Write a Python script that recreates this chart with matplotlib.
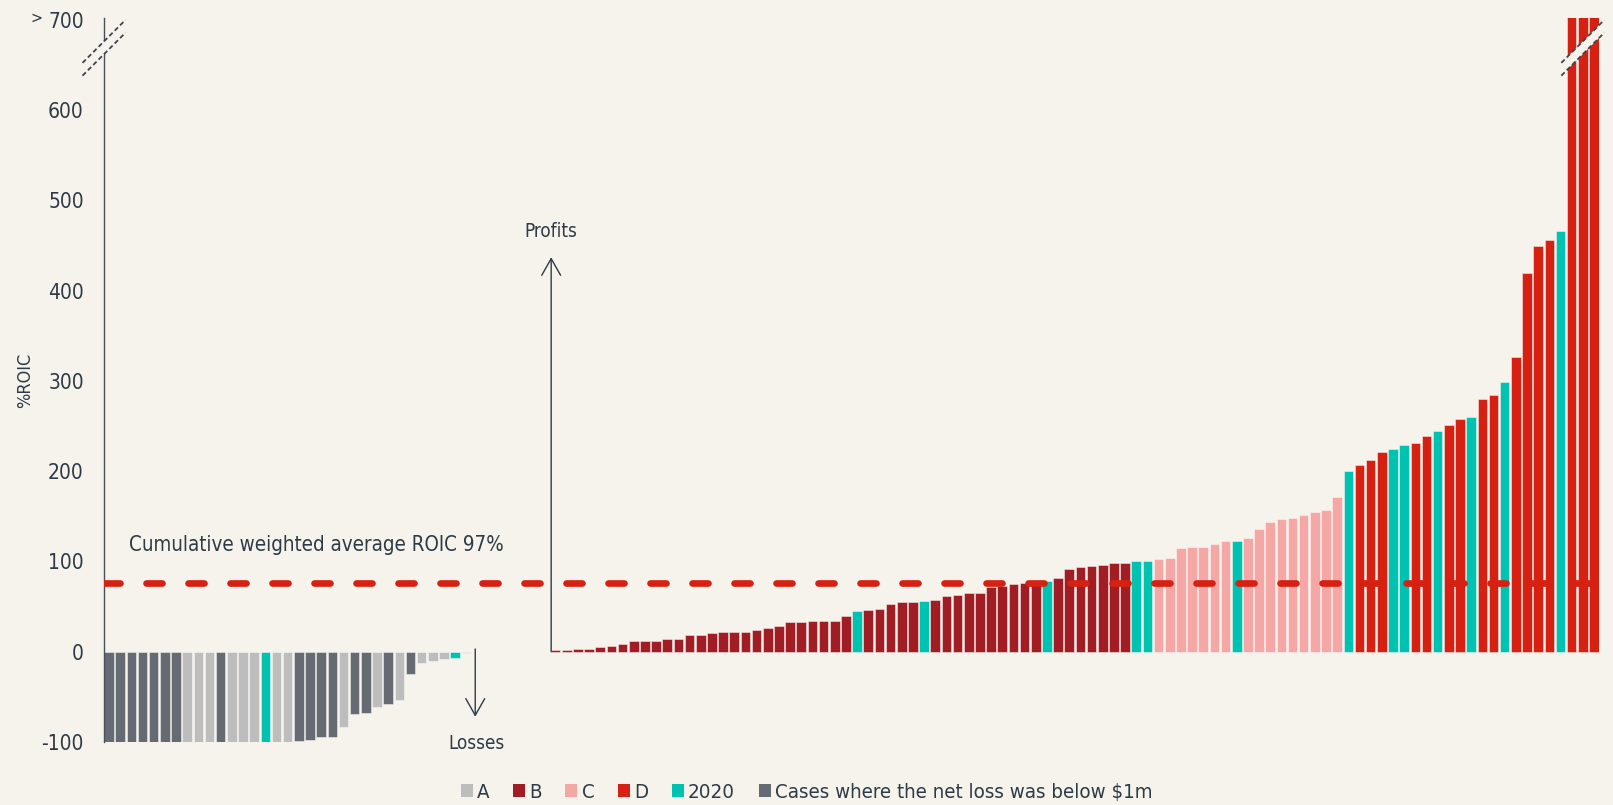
import numpy as np
import matplotlib
matplotlib.use("Agg")
import matplotlib.pyplot as plt
import matplotlib.transforms as transforms
from matplotlib.patches import Patch, Polygon
from matplotlib.lines import Line2D

# Data
# category codes: A, B, C, D, T = 2020, G = net loss below $1m
loss_values = [-100, -100, -100, -100, -100, -100, -100,
               -100, -100, -100, -100, -100, -100, -100, -100, -100, -100,
               -99, -97.5, -95, -94.5, -83, -68.5, -68, -61, -58, -54, -25,
               -12, -10, -8, -7, -1]
loss_cats = ["G"] * 7 + ["A"] * 3 + ["G"] + ["A"] * 3 + ["T"] + ["A"] * 2 + \
            ["G"] * 4 + ["A", "G", "G", "A", "G", "A", "G", "A", "A", "A", "T", "A"]

profit_values = [2, 2, 3.5, 3.5, 5, 6.5, 8.5, 12, 12, 12, 14, 14.5, 18.5, 19, 20.5,
                 21.5, 21.5, 22, 24.5, 26, 29, 33, 33, 33.5, 34, 34, 40,
                 45.5,
                 46, 47.5, 53, 55, 55.5,
                 56.5,
                 57, 61.5, 62.5, 64.5, 65, 71.5, 73, 75, 76.5, 77,
                 78,
                 81.5, 92, 93.5, 94.5, 96.5, 98.5, 98.5,
                 100.5, 100.5,
                 103, 104, 115, 115.5, 116, 119.5, 122.5,
                 123,
                 126.5, 135.5, 143.5, 147, 148.5, 151, 154.5, 157, 171.5,
                 200,
                 206.5, 212, 221,
                 224.5, 229,
                 231.5, 239.5,
                 244,
                 251.5, 258,
                 260,
                 279.5, 284,
                 299,
                 326, 419, 449, 456.5,
                 466.5,
                 800, 800, 800]
profit_cats = ["B"] * 27 + ["T"] + ["B"] * 5 + ["T"] + ["B"] * 10 + ["T"] + ["B"] * 7 + \
              ["T"] * 2 + ["C"] * 7 + ["T"] + ["C"] * 9 + ["T"] + ["D"] * 3 + ["T"] * 2 + \
              ["D"] * 2 + ["T"] + ["D"] * 2 + ["T"] + ["D"] * 2 + ["T"] + ["D"] * 4 + \
              ["T"] + ["D"] * 3

avg_roic = 76.5
gap_slots = 7

legend_labels = ["A", "B", "C", "D", "2020", "Cases where the net loss was below $1m"]
legend_cats = ["A", "B", "C", "D", "T", "G"]

# Style
BG = "#F5F3EB"
TEXT = "#2E3A46"
COLORS = {"A": "#BDBDBD", "B": "#A01D23", "C": "#F4A7A5", "D": "#D62011",
          "T": "#00C2B0", "G": "#666B73"}

plt.rcParams["font.family"] = "DejaVu Sans"
plt.rcParams["font.stretch"] = "condensed"
plt.rcParams["axes.unicode_minus"] = False

fig = plt.figure(figsize=(16.13, 8.05), dpi=100, facecolor=BG)
ax = fig.add_axes([0.06448, 0.07826, 0.92685, 0.8994])
ax.set_facecolor(BG)

x_loss = np.arange(len(loss_values))
x_profit = np.arange(len(profit_values)) + len(loss_values) + gap_slots
xs = np.r_[x_loss, x_profit]
vals = np.r_[loss_values, profit_values]
cats = loss_cats + profit_cats

ax.bar(xs, vals, width=0.86, color=[COLORS[c] for c in cats],
       edgecolor=(1, 1, 1, 0.45), linewidth=0.7, zorder=1)

ax.set_xlim(xs[0] - 0.45, xs[-1] + 0.45)
ax.set_ylim(-100, 702)

# weighted average line
ax.axhline(avg_roic, color="#D62011", lw=4.8, dashes=(2.4, 3.9),
           dash_capstyle="round", zorder=4)
ax.text(1.75, 118, "Cumulative weighted average ROIC 97%", fontsize=14.8,
        color=TEXT, va="center", ha="left")

# spines / ticks
for s in ["top", "right", "bottom"]:
    ax.spines[s].set_visible(False)
ax.spines["left"].set_color("#4A5059")
ax.spines["left"].set_linewidth(1.0)
ax.set_xticks([])
ax.set_yticks(np.arange(-100, 701, 100))
ax.tick_params(axis="y", length=0, pad=14.5, labelsize=15, labelcolor=TEXT)
fig.text(36 / 1613, 1 - 18 / 805, ">", fontsize=11.5, color=TEXT,
         ha="center", va="center")
fig.text(25 / 1613, 1 - 380 / 805, "%ROIC", fontsize=13, color=TEXT,
         rotation=90, ha="center", va="center")

# profit / loss arrows
arrow = dict(arrowstyle="->,head_length=0.6,head_width=0.34", lw=1.0,
             color=TEXT, mutation_scale=20, shrinkA=0, shrinkB=0)
xp = x_profit[0] - 0.4
ax.annotate("", xy=(xp, 437), xytext=(xp, 0), arrowprops=arrow, zorder=3)
ax.text(xp, 465, "Profits", fontsize=13.5, color=TEXT, ha="center", va="center")
xl = x_loss[-1] + 0.8
ax.annotate("", xy=(xl, -72), xytext=(xl, 3), arrowprops=arrow,
            annotation_clip=False, zorder=3)
ax.text(xl + 0.1, -102, "Losses", fontsize=13.5, color=TEXT, ha="center",
        va="center", clip_on=False)


# axis break marks
def axis_break(x, y):
    tr = fig.dpi_scale_trans + transforms.ScaledTranslation(x, y, ax.transData)
    h, d = 0.215, 0.064
    band = Polygon([(-h, -h + d), (h, h + d), (h, h - d), (-h, -h - d)],
                   closed=True, transform=tr, fc=BG, ec="none", zorder=5,
                   clip_on=False)
    ax.add_patch(band)
    for off in (d, -d):
        ax.add_line(Line2D([-h, h], [-h + off, h + off], transform=tr,
                           color="#3E4550", lw=1.3, dashes=(2.6, 1.6),
                           zorder=6, clip_on=False))


axis_break(xs[0] - 0.45, 669)
axis_break(x_profit[-2], 669)

# legend
handles = [Patch(facecolor=COLORS[c], edgecolor="none") for c in legend_cats]
fig.legend(handles, legend_labels, loc="center", ncol=6,
           bbox_to_anchor=(0.5, 1 - 792 / 805), frameon=False, fontsize=14.7,
           handlelength=0.6, handleheight=0.6, handletextpad=0.2,
           columnspacing=1.15, borderpad=0, labelcolor=TEXT)

fig.savefig("out.png", dpi=100, facecolor=BG)
